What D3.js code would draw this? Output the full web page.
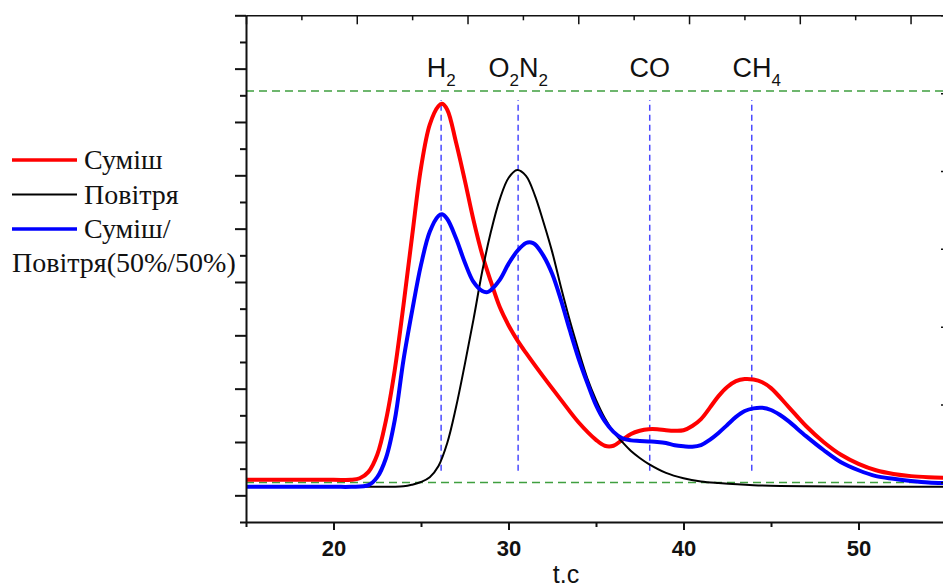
<!DOCTYPE html>
<html>
<head>
<meta charset="utf-8">
<script src="https://cdn.jsdelivr.net/npm/d3@7"></script>
<style>
body { margin: 0; background: #fff; }
svg { display: block; }
</style>
</head>
<body>
<div id="chart"></div>
<script>
// Суміш (red)
let mixTime = [15, 20, 21, 21.5, 22, 22.5, 23, 23.5, 24, 24.5, 25, 25.5, 26, 26.2, 26.5, 27, 27.5, 28, 28.5, 29,
  29.5, 30, 30.5, 31, 32, 33, 34, 35, 35.5, 36, 36.5, 37, 37.5, 38, 38.5, 39, 39.5, 40, 40.5, 41,
  41.5, 42, 42.5, 43, 43.5, 44, 44.5, 45, 46, 47, 48, 49, 50, 51, 52, 53, 54, 55];
let mixSignal = [0.29, 0.29, 0.29, 0.32, 0.44, 0.76, 1.41, 2.35, 3.57, 4.88, 6.14, 6.95, 7.30, 7.34, 7.23, 6.62, 5.91, 5.16, 4.51, 4.00,
  3.53, 3.19, 2.91, 2.67, 2.22, 1.79, 1.37, 1.04, 0.93, 0.93, 1.04, 1.15, 1.21, 1.24, 1.24, 1.22, 1.21, 1.22, 1.30, 1.43,
  1.64, 1.86, 2.03, 2.14, 2.18, 2.17, 2.12, 2.01, 1.66, 1.30, 1.00, 0.76, 0.59, 0.47, 0.40, 0.36, 0.34, 0.33];

// Повітря (black)
let airTime = [15, 20, 22, 24, 24.5, 25, 25.5, 26, 26.5, 27, 27.5, 28, 28.5, 29, 29.5, 30, 30.5, 31, 31.5, 32,
  32.5, 33, 33.5, 34, 34.5, 35, 35.5, 36, 36.5, 37, 37.5, 38, 39, 40, 41, 42, 44, 47, 55];
let airSignal = [0.16, 0.16, 0.16, 0.17, 0.20, 0.25, 0.34, 0.55, 0.98, 1.65, 2.45, 3.30, 4.20, 4.95, 5.55, 5.95, 6.10, 5.99, 5.63, 5.12,
  4.56, 3.90, 3.28, 2.72, 2.20, 1.79, 1.45, 1.19, 1.00, 0.83, 0.70, 0.59, 0.42, 0.32, 0.26, 0.23, 0.19, 0.17, 0.16];

// Суміш/Повітря 50%/50% (blue)
let blendTime = [15, 20, 21, 22, 22.5, 23, 23.5, 24, 24.5, 25, 25.5, 26, 26.2, 26.5, 27, 27.5, 28, 28.5, 28.8, 29,
  29.5, 30, 30.5, 31, 31.3, 31.5, 32, 32.5, 33, 33.5, 34, 34.5, 35, 35.5, 36, 36.5, 37, 37.5, 38, 38.5,
  39, 39.5, 40, 40.5, 41, 41.5, 42, 42.5, 43, 43.5, 44, 44.5, 45, 45.5, 46, 47, 48, 49, 50, 51,
  52, 53, 54, 55];
let blendSignal = [0.16, 0.16, 0.16, 0.19, 0.34, 0.70, 1.41, 2.54, 3.47, 4.32, 4.94, 5.24, 5.27, 5.18, 4.82, 4.37, 4.00, 3.83, 3.81, 3.85,
  4.04, 4.34, 4.58, 4.73, 4.74, 4.71, 4.49, 4.15, 3.66, 3.10, 2.57, 2.11, 1.69, 1.39, 1.19, 1.07, 1.03, 1.02, 1.01, 1.00,
  0.98, 0.94, 0.92, 0.91, 0.94, 1.04, 1.17, 1.32, 1.47, 1.58, 1.63, 1.64, 1.60, 1.51, 1.39, 1.11, 0.85, 0.62, 0.47, 0.36,
  0.31, 0.27, 0.24, 0.23];

// peaks: retention time and gas label pieces [text, subscript]
let peakTimes = [26.15, 30.55, 38.07, 43.9];
let peakLabels = [[["H", "2"]], [["O", "2"], ["N", "2"]], [["CO", ""]], [["CH", "4"]]];
let peakSpan = [0.46, 7.41];       // signal range of the dashed marker lines
let levelLines = [0.24, 7.58];     // green dashed reference levels

let xMajor = [20, 30, 40, 50];
let xMinor = [15, 25, 35, 45, 55];

let legendLabels = [["Суміш"], ["Повітря"], ["Суміш/", "Повітря(50%/50%)"]];
let seriesColors = ["#ff0000", "#000000", "#0000ff"];
let seriesWidths = [4, 2, 4];

let series = [
  mixTime.map(function(t, i) { return {t: t, v: mixSignal[i]}; }),
  airTime.map(function(t, i) { return {t: t, v: airSignal[i]}; }),
  blendTime.map(function(t, i) { return {t: t, v: blendSignal[i]}; })
];

let width = 943, height = 587;
let margin = {top: 15.3, left: 246, bottom: 522, right: 946};
let sans = "'Liberation Sans', Arial, sans-serif";
let serif = "'Liberation Serif', 'Times New Roman', serif";

let svg = d3.select("#chart").append("svg")
  .attr("width", width)
  .attr("height", height);

let x = d3.scaleLinear().domain([15, 55]).range([margin.left, margin.right]);
let y = d3.scaleLinear().domain([-0.5, 9]).range([margin.bottom, margin.top]);
let xTop = d3.scaleLinear().domain([0, 6.32]).range([margin.left, margin.right]);
let yRight = d3.scaleLinear().domain([0, 6]).range([482.3, margin.top]);

// reference levels
svg.append("g").selectAll("line").data(levelLines).join("line")
  .attr("x1", x(15)).attr("x2", x(55))
  .attr("y1", function(d) { return y(d); })
  .attr("y2", function(d) { return y(d); })
  .attr("stroke", "#3f9f3f")
  .attr("stroke-width", 1.5)
  .attr("stroke-dasharray", "8,5");

// peak markers
svg.append("g").selectAll("line").data(peakTimes).join("line")
  .attr("x1", function(d) { return x(d); })
  .attr("x2", function(d) { return x(d); })
  .attr("y1", y(peakSpan[0])).attr("y2", y(peakSpan[1]))
  .attr("stroke", "#4a4aff")
  .attr("stroke-width", 1.5)
  .attr("stroke-dasharray", "6,4");

let labels = svg.append("g").selectAll("text").data(peakTimes).join("text")
  .attr("x", function(d) { return x(d); })
  .attr("y", 77)
  .attr("text-anchor", "middle")
  .attr("font-family", sans)
  .attr("font-size", 27)
  .attr("fill", "#111");
labels.each(function(d, i) {
  let node = d3.select(this);
  let lowered = false;
  peakLabels[i].forEach(function(part) {
    node.append("tspan").attr("dy", lowered ? -9 : null).text(part[0]);
    lowered = false;
    if (part[1]) {
      node.append("tspan").attr("font-size", 17).attr("dy", 9).text(part[1]);
      lowered = true;
    }
  });
});
labels.attr("dx", function(d, i) { return i === 3 ? 5 : 0; });

// curves
let line = d3.line()
  .x(function(d) { return x(d.t); })
  .y(function(d) { return y(d.v); })
  .curve(d3.curveCatmullRom.alpha(0.5));

svg.append("g").selectAll("path").data(series).join("path")
  .attr("d", line)
  .attr("fill", "none")
  .attr("stroke", function(d, i) { return seriesColors[i]; })
  .attr("stroke-width", function(d, i) { return seriesWidths[i]; })
  .attr("stroke-linejoin", "round");

// axes
function styleAxis(g, w) {
  g.select(".domain").attr("stroke", "#111").attr("stroke-width", w);
  g.selectAll(".tick line").attr("stroke", "#111").attr("stroke-width", w);
}

svg.append("g")
  .attr("transform", "translate(0," + margin.top + ")")
  .call(d3.axisBottom(xTop).tickValues(d3.range(0, 6.5, 0.5)).tickFormat("").tickSizeOuter(0))
  .call(styleAxis, 1.5)
  .call(function(g) {
    g.selectAll(".tick line").attr("y2", function(d) { return d % 1 === 0 ? 9 : 5; });
  });

svg.append("g")
  .attr("transform", "translate(945,0)")
  .call(d3.axisRight(yRight).ticks(6).tickFormat("").tickSizeOuter(0).tickSizeInner(-4))
  .call(styleAxis, 1.5);

svg.append("g")
  .attr("transform", "translate(" + margin.left + ",0)")
  .call(d3.axisLeft(y).tickValues(d3.range(-0.5, 9.5, 0.5)).tickFormat("").tickSizeOuter(0))
  .call(styleAxis, 2)
  .call(function(g) {
    g.selectAll(".tick line").attr("x2", function(d) { return d % 1 === 0 ? -11 : -6; });
  });

let xAxis = svg.append("g")
  .attr("transform", "translate(0," + margin.bottom + ")")
  .call(d3.axisBottom(x).tickValues(xMajor.concat(xMinor)).tickSizeOuter(0).tickPadding(12)
    .tickFormat(function(d) { return xMajor.indexOf(d) >= 0 ? d3.format("d")(d) : ""; }))
  .call(styleAxis, 2)
  .call(function(g) {
    g.selectAll(".tick line").attr("y2", function(d) { return xMajor.indexOf(d) >= 0 ? 8 : 5; });
  });
xAxis.selectAll(".tick text")
  .attr("font-family", sans)
  .attr("font-size", 22)
  .attr("font-weight", "bold")
  .attr("fill", "#111");

svg.append("text")
  .attr("x", 566)
  .attr("y", 583)
  .attr("text-anchor", "middle")
  .attr("font-family", sans)
  .attr("font-size", 25)
  .attr("fill", "#111")
  .text("t.c");

// legend
let legend = svg.append("g").selectAll("g").data(legendLabels).join("g")
  .attr("transform", function(d, i) { return "translate(0," + (160 + i * 34.5) + ")"; });
legend.append("line")
  .attr("x1", 12).attr("x2", 77)
  .attr("stroke", function(d, i) { return seriesColors[i]; })
  .attr("stroke-width", function(d, i) { return i === 1 ? 2 : 3.5; });
legend.each(function(d) {
  let g = d3.select(this);
  d.forEach(function(txt, k) {
    g.append("text")
      .attr("x", k === 0 ? 84 : 12)
      .attr("y", 9 + k * 34)
      .attr("font-family", serif)
      .attr("font-size", 28)
      .attr("fill", "#111")
      .text(txt);
  });
});
</script>
</body>
</html>
